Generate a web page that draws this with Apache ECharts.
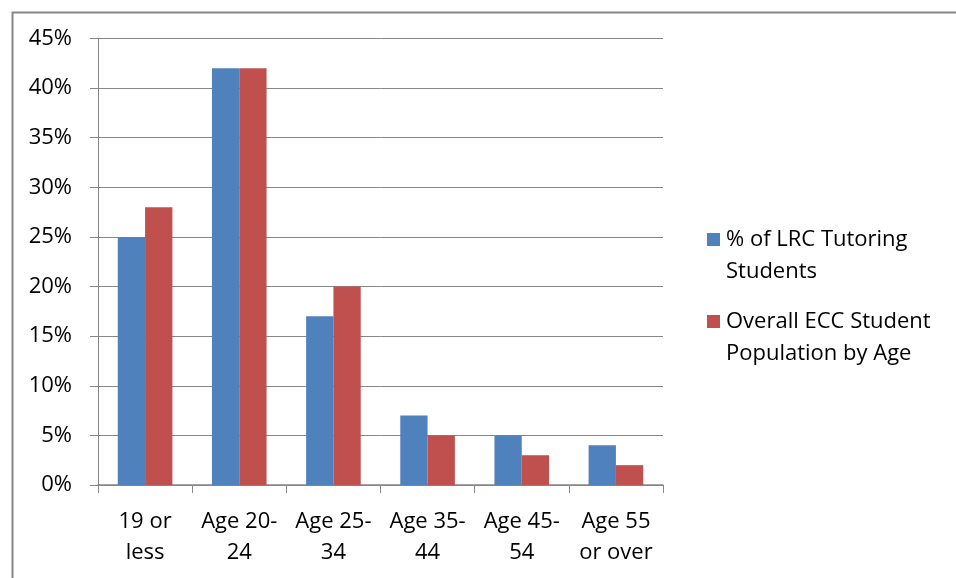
<!DOCTYPE html>
<html>
<head>
<meta charset="utf-8">
<script src="https://cdn.jsdelivr.net/npm/echarts@6/dist/echarts.min.js"></script>
<style>
  html, body { margin: 0; padding: 0; background: #ffffff; }
  #chart { width: 956px; height: 578px; }
</style>
</head>
<body>
<div id="chart"></div>
<script>
// Age groups along the x axis
const categories = ['19 or\nless', 'Age 20-\n24', 'Age 25-\n34', 'Age 35-\n44', 'Age 45-\n54', 'Age 55\nor over'];
// Share of students per age group, in percent
const tutoringStudents = [25, 42, 17, 7, 5, 4];
const overallPopulation = [28, 42, 20, 5, 3, 2];
const seriesNames = ['% of LRC Tutoring\nStudents', 'Overall ECC Student\nPopulation by Age'];
const yTicks = [0, 5, 10, 15, 20, 25, 30, 35, 40, 45];

const palette = ['#4F81BD', '#C0504D'];
const fontFamily = '"Open Sans", "Noto Sans", sans-serif';
const fontSize = 22;
const axisGrey = '#878787';

const chart = echarts.init(document.getElementById('chart'));

// Legend entries drawn as swatch + two-line caption, swatch level with the first line
const legendGraphics = [];
seriesNames.forEach((name, i) => {
  const top = 233 + i * 82;
  legendGraphics.push({
    type: 'rect', left: 707, top: top, shape: { width: 13, height: 13 },
    style: { fill: palette[i] }, silent: true
  });
  legendGraphics.push({
    type: 'text', left: 726, top: top - 9,
    style: { text: name, font: fontSize + 'px ' + fontFamily, fill: '#000', lineHeight: 32 },
    silent: true
  });
});

chart.setOption({
  animation: false,
  color: palette,
  grid: { left: 98, right: 293, top: 38.5, bottom: 93, containLabel: false },
  xAxis: {
    type: 'category',
    data: categories,
    axisLine: { show: true, lineStyle: { color: axisGrey, width: 1.5 } },
    axisTick: { show: true, alignWithLabel: false, length: 8, lineStyle: { color: axisGrey } },
    axisLabel: { color: '#000', fontSize: fontSize, fontFamily: fontFamily, lineHeight: 31, margin: 21, interval: 0 },
    splitLine: { show: false }
  },
  yAxis: {
    type: 'value',
    min: yTicks[0],
    max: yTicks[yTicks.length - 1],
    interval: 5,
    axisLine: { show: true, lineStyle: { color: axisGrey } },
    axisTick: { show: true, length: 8, lineStyle: { color: axisGrey } },
    axisLabel: { color: '#000', fontSize: fontSize, fontFamily: fontFamily, margin: 26, formatter: v => v + '%' },
    splitLine: { show: true, lineStyle: { color: axisGrey, width: 1 } }
  },
  series: [
    { name: seriesNames[0], type: 'bar', data: tutoringStudents, barGap: '0%', barCategoryGap: '42%' },
    { name: seriesNames[1], type: 'bar', data: overallPopulation, barGap: '0%', barCategoryGap: '42%' }
  ],
  graphic: [
    // chart frame
    { type: 'rect', left: 10, top: 10, shape: { width: 960, height: 600 },
      style: { fill: 'none', stroke: axisGrey, lineWidth: 2 }, silent: true, z: -1 }
  ].concat(legendGraphics)
});
</script>
</body>
</html>
